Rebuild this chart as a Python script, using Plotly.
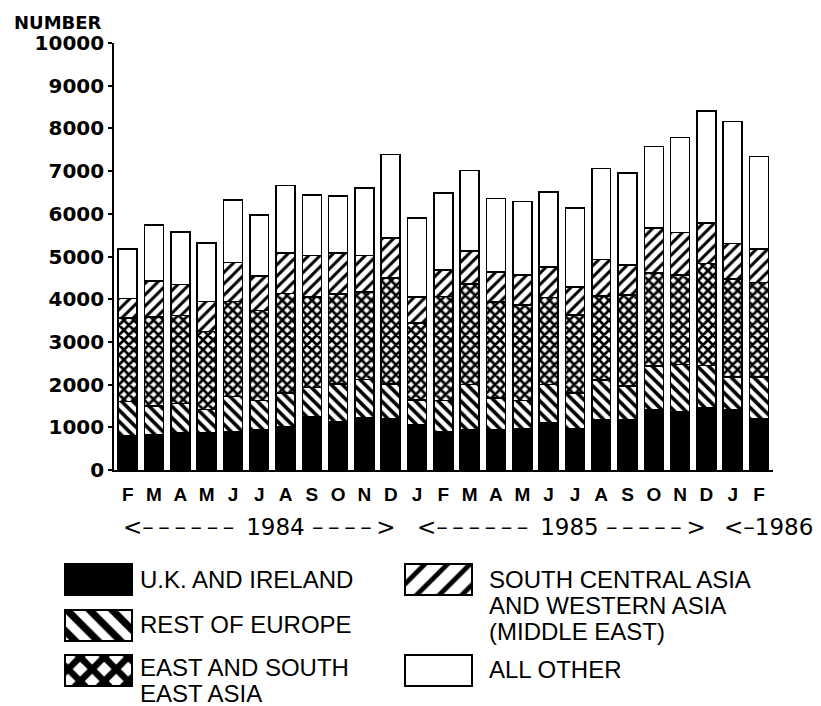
import plotly.graph_objects as go

# ---------------- data ----------------
MONTHS = ["F", "M", "A", "M", "J", "J", "A", "S", "O", "N", "D",
          "J", "F", "M", "A", "M", "J", "J", "A", "S", "O", "N", "D",
          "J", "F"]
YEARS = [1984] * 11 + [1985] * 12 + [1986] * 2

UK_IRELAND = [790, 820, 880, 860, 900, 940, 1020, 1250, 1130, 1230, 1210,
              1050, 890, 950, 930, 970, 1110, 970, 1170, 1170, 1400, 1360, 1450,
              1400, 1210]
REST_OF_EUROPE = [810, 680, 680, 560, 820, 690, 790, 680, 880, 890, 800,
                  590, 740, 1050, 760, 660, 890, 840, 940, 800, 1030, 1110, 1000,
                  780, 970]
EAST_SE_ASIA = [1960, 2080, 2060, 1820, 2230, 2110, 2320, 2120, 2110, 2050, 2490,
                1800, 2430, 2350, 2250, 2230, 2040, 1820, 1970, 2130, 2180, 2100, 2390,
                2300, 2210]
SOUTH_CENTRAL_WEST_ASIA = [460, 840, 720, 710, 910, 810, 950, 970, 960, 850, 930,
                           610, 620, 780, 700, 710, 720, 660, 850, 700, 1060, 990, 950,
                           820, 780]
ALL_OTHER = [1160, 1320, 1230, 1370, 1460, 1420, 1580, 1420, 1340, 1580, 1960,
             1850, 1810, 1880, 1720, 1720, 1750, 1840, 2130, 2150, 1910, 2230, 2620,
             2860, 2170]

Y_TICKS = [0, 1000, 2000, 3000, 4000, 5000, 6000, 7000, 8000, 9000, 10000]
Y_TICK_TEXT = [str(v) for v in Y_TICKS]
YEAR_LABELS = ["1984", "1985", "1986"]

SERIES_NAMES = ["U.K. AND IRELAND", "REST OF EUROPE", "EAST AND SOUTH EAST ASIA",
                "SOUTH CENTRAL ASIA AND WESTERN ASIA (MIDDLE EAST)", "ALL OTHER"]
SERIES_VALUES = [UK_IRELAND, REST_OF_EUROPE, EAST_SE_ASIA,
                 SOUTH_CENTRAL_WEST_ASIA, ALL_OTHER]

# ---------------- styles / layout ----------------
OFF = 8                      # page body margin in the screenshot
W, H = 821 - OFF, 706 - OFF  # figure size


def fx(px):
    return px - OFF


def fy(py):
    return py - OFF


BAR_PATTERNS = [
    dict(shape="", fgcolor="black", bgcolor="black", fgopacity=1),
    dict(shape="\\", size=8, solidity=0.45, fgcolor="black", bgcolor="white", fgopacity=1),
    dict(shape="x", size=7, solidity=0.62, fgcolor="black", bgcolor="white", fgopacity=1),
    dict(shape="/", size=8, solidity=0.38, fgcolor="black", bgcolor="white", fgopacity=1),
    dict(shape="", fgcolor="white", bgcolor="white", fgopacity=1),
]
BAR_COLORS = ["black", "white", "white", "white", "white"]
SWATCH_PATTERNS = [
    dict(shape="", fgcolor="black", bgcolor="black", fgopacity=1),
    dict(shape="\\", size=16, solidity=0.45, fgcolor="black", bgcolor="white", fgopacity=1),
    dict(shape="x", size=17, solidity=0.62, fgcolor="black", bgcolor="white", fgopacity=1),
    dict(shape="/", size=16, solidity=0.3, fgcolor="black", bgcolor="white", fgopacity=1),
    dict(shape="", fgcolor="white", bgcolor="white", fgopacity=1),
]
# legend grid in screenshot pixels: swatch left edge per column, swatch top per row
COL_SWATCH_X = [65, 405]
COL_TEXT_X = [138, 487]
ROW_TOP = [564, 610, 655]
SWATCH_W, SWATCH_H = 67, 31
LEGEND_POS = [(0, 0), (0, 1), (0, 2), (1, 0), (1, 2)]
LEGEND_LINES = [["U.K. AND IRELAND"], ["REST OF EUROPE"],
                ["EAST AND SOUTH", "EAST ASIA"],
                ["SOUTH CENTRAL ASIA", "AND WESTERN ASIA", "(MIDDLE EAST)"],
                ["ALL OTHER"]]
FIRST_LINE_Y = [579, 624, 667, 579, 669]   # centre of first text line
LINE_STEP = 26
LEGEND_FONT = dict(family="Liberation Sans, Arial", size=24, color="black")

PLOT_L, PLOT_R, PLOT_T, PLOT_B = 114, 773, 43, 470

categories = [f"{m}-{y}-{i}" for i, (m, y) in enumerate(zip(MONTHS, YEARS))]

fig = go.Figure()
for name, vals, pat, col in zip(SERIES_NAMES, SERIES_VALUES, BAR_PATTERNS, BAR_COLORS):
    fig.add_trace(go.Bar(
        x=categories, y=vals, name=name,
        marker=dict(color=col, pattern=pat, line=dict(color="black", width=1.6)),
        showlegend=False, hoverinfo="x+y+name",
    ))

# legend swatches on a pixel-unit overlay axis
annotations = []
for i, name in enumerate(SERIES_NAMES):
    c, r = LEGEND_POS[i]
    fig.add_trace(go.Bar(
        x=[fx(COL_SWATCH_X[c] + SWATCH_W / 2)], y=[SWATCH_H], base=[fy(ROW_TOP[r])],
        width=[SWATCH_W], xaxis="x2", yaxis="y2", showlegend=False,
        hoverinfo="skip",
        marker=dict(color=BAR_COLORS[i], pattern=SWATCH_PATTERNS[i],
                    line=dict(color="black", width=2.2)),
    ))
    for k, line in enumerate(LEGEND_LINES[i]):
        annotations.append(dict(
            x=fx(COL_TEXT_X[c]),
            y=fy(FIRST_LINE_Y[i] + k * LINE_STEP),
            xref="x2", yref="y2", text=line, showarrow=False,
            xanchor="left", yanchor="middle", font=LEGEND_FONT,
        ))

# axis title "NUMBER"
annotations.append(dict(
    x=fx(104), y=fy(22), xref="x2", yref="y2", text="NUMBER", showarrow=False,
    xanchor="right", yanchor="middle",
    font=dict(family="DejaVu Sans", size=18, color="black", weight="bold"),
))

# year span labels
U = "\u2013\u2009"
year_font = dict(family="DejaVu Sans", size=23, color="black")
YEAR_Y = fy(527)
annotations.append(dict(x=5.0, y=YEAR_Y, xref="x", yref="y2",
                        text="<" + U * 6 + " " + YEAR_LABELS[0] + " " + U * 4 + ">",
                        showarrow=False, xanchor="center", yanchor="middle", font=year_font))
annotations.append(dict(x=16.5, y=YEAR_Y, xref="x", yref="y2",
                        text="<" + U * 6 + " " + YEAR_LABELS[1] + " " + U * 5 + ">",
                        showarrow=False, xanchor="center", yanchor="middle", font=year_font))
annotations.append(dict(x=22.6, y=YEAR_Y, xref="x", yref="y2",
                        text="<\u2013" + YEAR_LABELS[2],
                        showarrow=False, xanchor="left", yanchor="middle", font=year_font))

fig.update_layout(
    width=W, height=H,
    margin=dict(l=0, r=0, t=0, b=0),
    paper_bgcolor="white", plot_bgcolor="rgba(0,0,0,0)",
    barmode="stack", bargap=0.28,
    showlegend=False,
    annotations=annotations,
    xaxis=dict(
        domain=[fx(PLOT_L) / W, fx(PLOT_R) / W],
        type="category", range=[-0.52, 24.53],
        tickvals=categories, ticktext=MONTHS,
        tickfont=dict(family="Liberation Sans Narrow, Liberation Sans", size=19,
                      color="black", weight="bold"),
        ticks="", ticklabelstandoff=6,
        showline=True, linecolor="black", linewidth=2,
        showgrid=False, zeroline=False, automargin=False, fixedrange=True,
    ),
    yaxis=dict(
        domain=[1 - fy(PLOT_B) / H, 1 - fy(PLOT_T) / H],
        range=[0, 10000], tickvals=Y_TICKS, ticktext=Y_TICK_TEXT,
        tickfont=dict(family="DejaVu Sans", size=20, color="black", weight="bold"),
        ticks="outside", ticklen=4, tickwidth=1.6, tickcolor="black",
        showline=True, linecolor="black", linewidth=1.6,
        showgrid=False, zeroline=False, automargin=False, fixedrange=True,
    ),
    xaxis2=dict(domain=[0, 1], range=[0, W], visible=False, fixedrange=True,
                anchor="y2"),
    yaxis2=dict(domain=[0, 1], range=[H, 0], visible=False, fixedrange=True,
                anchor="x2"),
)

fig.write_html("out.html")
